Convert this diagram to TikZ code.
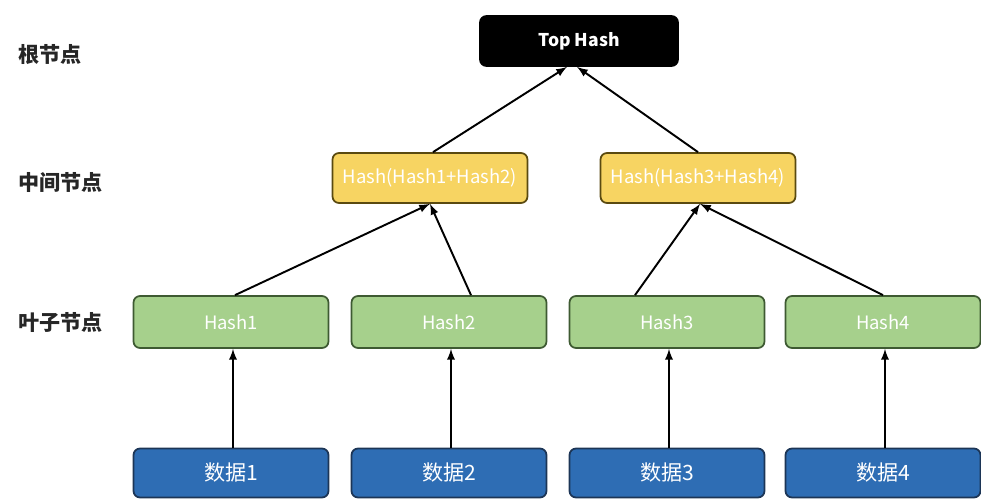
\documentclass[tikz,border=0pt]{standalone}
\usepackage{fontspec}
\setmainfont{Noto Sans CJK SC}
\definecolor{midfill}{HTML}{F7D462}
\definecolor{midline}{HTML}{5A4A10}
\definecolor{leaffill}{HTML}{A6D08C}
\definecolor{leafline}{HTML}{3E5A32}
\definecolor{datafill}{HTML}{2E6DB4}
\definecolor{dataline}{HTML}{1C3556}

\begin{document}
\begin{tikzpicture}[x=0.02cm, y=-0.02cm,
                    edge/.style={draw, line width=1.1pt, -latex},
                    every node/.style = {shape=rectangle,
                    align=center},
                    box/.style = {draw, line width=1pt, rounded corners=0.13cm,
                    minimum width=3.9cm, text=white},
                    tophash/.style = {box, fill=black, minimum width=3.96cm,
                    minimum height=1.0cm, font=\fontsize{10}{12}\selectfont\bfseries},
                    midhash/.style = {box, fill=midfill, draw=midline,
                    minimum height=1.0cm, font=\fontsize{10.5}{12}\selectfont},
                    leafhash/.style = {box, fill=leaffill, draw=leafline,
                    minimum height=1.04cm, font=\fontsize{10.5}{12}\selectfont},
                    datablock/.style = {box, fill=datafill, draw=dataline,
                    minimum height=0.98cm, font=\fontsize{12}{14}\selectfont},
                    level/.style = {anchor=west, text=black!85,
                    font=\fontsize{12}{14}\selectfont\bfseries}]
  \useasboundingbox (0,0) rectangle (981,500);

  % level labels
  \node[level] (lroot) at (12,55) {根节点};
  \node[level] (lmid)  at (12,182) {中间节点};
  \node[level] (lleaf) at (12,322) {叶子节点};

  % tree
  \node[tophash] (top) at (579,41) {Top Hash};
  \node[midhash] (m1) at (430,178) {Hash(Hash1+Hash2)};
  \node[midhash] (m2) at (698,178) {Hash(Hash3+Hash4)};
  \node[leafhash] (h1) at (231,322) {Hash1};
  \node[leafhash] (h2) at (449,322) {Hash2};
  \node[leafhash] (h3) at (667,322) {Hash3};
  \node[leafhash] (h4) at (883,322) {Hash4};
  \node[datablock] (d1) at (231,473) {数据1};
  \node[datablock] (d2) at (449,473) {数据2};
  \node[datablock] (d3) at (667,473) {数据3};
  \node[datablock] (d4) at (883,473) {数据4};

  % arrows
  \foreach \n in {1,2,3,4}
    \draw[edge] ([xshift=0.04cm]d\n.north) -- ([xshift=0.04cm]h\n.south);
  \draw[edge] ([xshift=0.08cm]h1.north) -- (m1.south);
  \draw[edge] ([xshift=0.44cm]h2.north) -- (m1.south);
  \draw[edge] ([xshift=-0.64cm]h3.north) -- ([xshift=0.04cm]m2.south);
  \draw[edge] (h4.north) -- ([xshift=0.04cm]m2.south);
  \draw[edge] ([xshift=0.06cm]m1.north) -- ([xshift=-0.24cm]top.south);
  \draw[edge] (m2.north) -- ([xshift=-0.04cm]top.south);
\end{tikzpicture}
\end{document}
